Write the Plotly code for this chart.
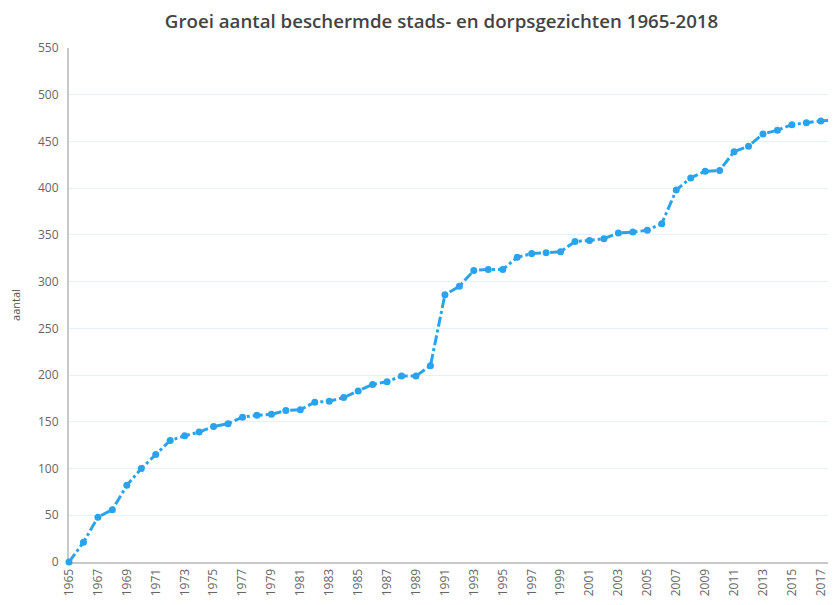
import plotly.graph_objects as go

years = list(range(1965, 2019))
values = [0, 21, 48, 56, 82, 100, 115, 130, 135, 139,
          145, 148, 155, 157, 158, 162, 163, 171, 172, 176,
          183, 190, 193, 199, 199, 210, 286, 295, 312, 313,
          313, 326, 330, 331, 332, 343, 344, 346, 352, 353,
          355, 362, 398, 411, 418, 419, 439, 445, 458, 462,
          468, 470, 472, 473]
x_ticks = list(range(1965, 2018, 2))
y_ticks = list(range(0, 551, 50))

title_text = "Groei aantal beschermde stads- en dorpsgezichten 1965-2018"
y_title = "aantal"

color = "#2ba3ec"

# the page body adds an 8px offset, so the figure is sized to fill the rest
fig = go.Figure()
fig.add_trace(go.Scatter(
    x=years, y=values, mode="lines+markers",
    line=dict(color=color, width=3, dash="10px,3px,3px,3px"),
    marker=dict(color=color, size=7),
    cliponaxis=False, showlegend=False,
))

fig.update_layout(
    width=828, height=597,
    margin=dict(l=61, r=0, t=40, b=43),
    paper_bgcolor="white", plot_bgcolor="white",
    title=dict(text=title_text, x=0.5236, xanchor="center", y=0.977, yanchor="middle",
               font=dict(family="Open Sans", size=18.7, color="#444", weight=600)),
    font=dict(family="Open Sans", color="#666"),
    xaxis=dict(range=[1965, 2018.05], tickvals=x_ticks, ticktext=[str(t) for t in x_ticks],
               tickangle=-90, tickfont=dict(size=12, color="#666"), automargin=False,
               showgrid=False, showline=True, linecolor="#c8c8c8", linewidth=2,
               zeroline=False, ticks="", layer="below traces"),
    yaxis=dict(range=[0, 550], tickvals=y_ticks, tickfont=dict(size=12, color="#666"),
               automargin=False,
               showgrid=True, gridcolor="#e4f1f9", gridwidth=1,
               showline=True, linecolor="#c8c8c8", linewidth=2,
               zeroline=False, ticks="", ticklabelstandoff=6, layer="below traces",
               title=dict(text=y_title, font=dict(size=11, color="#555"), standoff=18)),
)

fig.write_html("out.html")
